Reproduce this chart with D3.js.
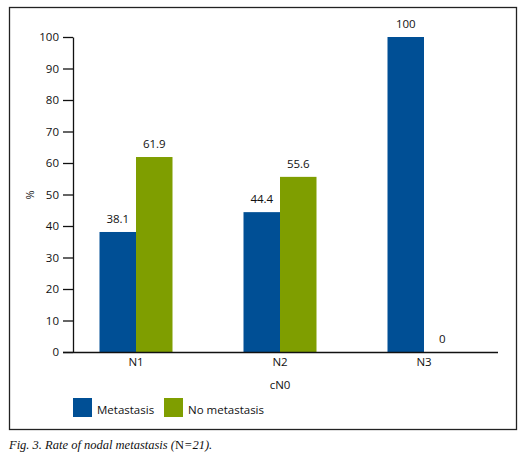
<!DOCTYPE html>
<html><head><meta charset="utf-8">
<script src="https://cdn.jsdelivr.net/npm/d3@7"></script>
<style>
body{margin:0;background:#fff;}
svg text{font-family:"Open Sans","Noto Sans",sans-serif;fill:#111;}
</style></head>
<body><svg id="c" width="523" height="457"></svg>
<script>
const categories = ["N1","N2","N3"];
const seriesNames = ["Metastasis","No metastasis"];
const metastasis = [38.1, 44.4, 100];
const noMetastasis = [61.9, 55.6, 0];
const yTicks = [0,10,20,30,40,50,60,70,80,90,100];
const colors = ["#004f95","#7f9e00"];

const svg = d3.select("#c");
// frame
svg.append("rect").attr("x",9.5).attr("y",7.5).attr("width",507).attr("height",422)
  .attr("fill","none").attr("stroke","#222").attr("stroke-width",1.3);

const y = d3.scaleLinear().domain([0,100]).range([352,37]);
const x0 = d3.scaleBand().domain(categories).range([64,496]).padding(0);
const x1 = d3.scaleBand().domain(seriesNames).range([-36.5,36.5]).padding(0);

const data = categories.map((c,i)=>({cat:c, vals:[
  {s:seriesNames[0], v:metastasis[i]},
  {s:seriesNames[1], v:noMetastasis[i]}]}));

// y axis
const ya = svg.append("g").attr("transform","translate(73,0)")
  .call(d3.axisLeft(y).tickValues(yTicks).tickSize(10).tickSizeOuter(0));
ya.select(".domain").attr("stroke","#111").attr("stroke-width",1.3);
ya.selectAll(".tick line").attr("stroke","#111").attr("stroke-width",1.3);
ya.selectAll(".tick text").attr("font-size",11.5).attr("x",-14).attr("fill","#111")
  .style("font-family","Open Sans, sans-serif");

svg.append("text").attr("transform","translate(30,195) rotate(-90)")
  .attr("text-anchor","middle").attr("dy","0.35em").attr("font-size",11).text("%");

// bars
const g = svg.selectAll(".grp").data(data).join("g")
  .attr("transform",d=>`translate(${x0(d.cat)+x0.bandwidth()/2},0)`);
g.selectAll("rect").data(d=>d.vals).join("rect")
  .attr("x",d=>x1(d.s)).attr("width",x1.bandwidth())
  .attr("y",d=>y(d.v)).attr("height",d=>y(0)-y(d.v))
  .attr("fill",(d,i)=>colors[i]);
g.selectAll(".lbl").data(d=>d.vals).join("text").attr("class","lbl")
  .attr("x",d=>x1(d.s)+x1.bandwidth()/2).attr("y",d=>y(d.v)-9)
  .attr("text-anchor","middle").attr("font-size",11.5).text(d=>d.v);

// x axis
const xa = svg.append("g").attr("transform","translate(0,352)")
  .call(d3.axisBottom(x0).tickSize(0).tickPadding(6));
xa.select(".domain").remove();
svg.append("line").attr("x1",63).attr("x2",498).attr("y1",352.5).attr("y2",352.5)
  .attr("stroke","#111").attr("stroke-width",1.3);
xa.selectAll(".tick text").attr("font-size",11.5).attr("fill","#111")
  .style("font-family","Open Sans, sans-serif");

svg.append("text").attr("x",280).attr("y",385).attr("dy","0.35em")
  .attr("text-anchor","middle").attr("font-size",11.5).text("cN0");

// legend
const legX = [73,164];
seriesNames.forEach((s,i)=>{
  svg.append("rect").attr("x",legX[i]).attr("y",398).attr("width",19).attr("height",19).attr("fill",colors[i]);
  svg.append("text").attr("x",legX[i]+24).attr("y",410).attr("dy","0.35em")
    .attr("font-size",11.5).text(s);
});

// caption
const cap = svg.append("text").attr("x",9).attr("y",449)
  .style("font-family","Liberation Serif, serif").attr("font-size",12.5).attr("fill","#222");
cap.append("tspan").attr("font-style","italic").text("Fig. 3. Rate of nodal metastasis (");
cap.append("tspan").text("N");
cap.append("tspan").attr("font-style","italic").text("=21).");
</script></body></html>
